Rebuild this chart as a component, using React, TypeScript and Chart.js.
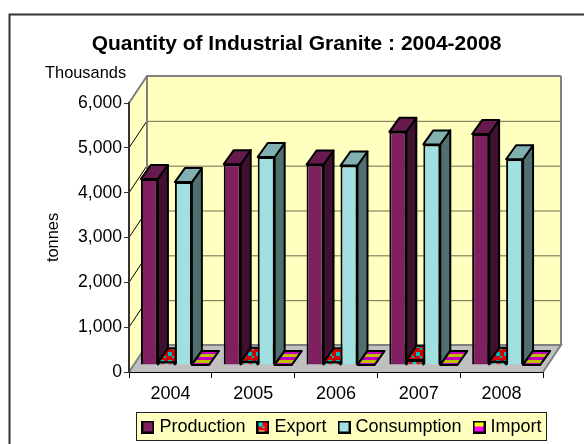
import React, { useEffect, useRef } from "react";
import { Chart, registerables } from "chart.js";

Chart.register(...registerables);

const categories = ["2004", "2005", "2006", "2007", "2008"];
const production = [4150, 4480, 4470, 5200, 5150];
const exportQty = [60, 70, 60, 110, 70];
const consumption = [4080, 4640, 4450, 4920, 4590];
const importQty = [0, 0, 0, 0, 0];
const yTicks = [0, 1000, 2000, 3000, 4000, 5000, 6000];

const FONT = "'Liberation Sans', Arial, sans-serif";
const WALL = { dx: 18, dy: 27 };
const SHIFT = { dx: 4.5, dy: 7 };
const DEPTH = { dx: 10, dy: 14 };

function tile(size: number, paint: (c: CanvasRenderingContext2D) => void) {
  const cv = document.createElement("canvas");
  cv.width = size;
  cv.height = size;
  paint(cv.getContext("2d") as CanvasRenderingContext2D);
  return cv;
}

function exportTile(bg: string, spot: string) {
  return tile(8, (c) => {
    c.fillStyle = bg;
    c.fillRect(0, 0, 8, 8);
    c.fillStyle = spot;
    c.fillRect(0, 0, 4, 4);
    c.fillRect(4, 4, 2, 2);
  });
}

function importTile(a: string, b: string) {
  return tile(6, (c) => {
    c.fillStyle = a;
    c.fillRect(0, 0, 6, 3);
    c.fillStyle = b;
    c.fillRect(0, 3, 6, 3);
  });
}

function swatch(fill: (c: CanvasRenderingContext2D) => void) {
  return tile(13, (c) => {
    fill(c);
    c.strokeStyle = "#000000";
    c.lineWidth = 2;
    c.strokeRect(1, 1, 11, 11);
  });
}

export default function App() {
  const ref = useRef<HTMLCanvasElement>(null);

  useEffect(() => {
    const canvas = ref.current as HTMLCanvasElement;
    const ctx = canvas.getContext("2d") as CanvasRenderingContext2D;
    const pat = (t: HTMLCanvasElement) => ctx.createPattern(t, "repeat") as CanvasPattern;

    const faces = [
      { side: "#40102F", top: "#661A4D" },
      { side: pat(exportTile("#800000", "#008080")), top: pat(exportTile("#D00000", "#00B8B8")) },
      { side: "#507070", top: "#80B0B0" },
      { side: pat(importTile("#C0C000", "#C000C0")), top: pat(importTile("#C0C000", "#C000C0")) },
    ];

    const swatches = [
      swatch((c) => { c.fillStyle = "#802060"; c.fillRect(0, 0, 13, 13); }),
      swatch((c) => { c.drawImage(exportTile("#FF0000", "#00DDDD"), 2, 2); c.fillStyle = "#FF0000"; c.fillRect(8, 2, 3, 9); }),
      swatch((c) => { c.fillStyle = "#A0E0E0"; c.fillRect(0, 0, 13, 13); }),
      swatch((c) => { c.fillStyle = "#FFFF00"; c.fillRect(0, 0, 13, 6); c.fillStyle = "#FF00FF"; c.fillRect(0, 6, 13, 7); }),
    ];

    const poly = (pts: number[][], fill: any, stroke?: string, lw = 1) => {
      ctx.beginPath();
      pts.forEach((p, i) => (i ? ctx.lineTo(p[0], p[1]) : ctx.moveTo(p[0], p[1])));
      ctx.closePath();
      ctx.fillStyle = fill;
      ctx.fill();
      if (stroke) {
        ctx.strokeStyle = stroke;
        ctx.lineWidth = lw;
        ctx.lineJoin = "round";
        ctx.stroke();
      }
    };

    const chrome = {
      id: "chrome",
      afterLayout(chart: any) {
        const l = chart.legend;
        l.left += 52;
        l.right += 52;
        l.top += 6;
        l.bottom += 6;
        chart.scales.x.bottom += 20;
        const t = chart.titleBlock;
        t.left += 5;
        t.right += 5;
        t.top += 2;
        t.bottom += 2;
      },
      beforeDraw(chart: any) {
        const { left, right, top, bottom } = chart.chartArea;
        const y = chart.scales.y;
        ctx.save();
        ctx.fillStyle = "#FFFFFF";
        ctx.fillRect(0, 0, 584, 444);
        ctx.strokeStyle = "#333333";
        ctx.lineWidth = 2;
        ctx.strokeRect(9.5, 14.5, 700, 600);
        poly([[left, top], [left + WALL.dx, top - WALL.dy], [left + WALL.dx, bottom - WALL.dy], [left, bottom]], "#FFFFC0");
        poly([[left + WALL.dx, top - WALL.dy], [right + WALL.dx, top - WALL.dy], [right + WALL.dx, bottom - WALL.dy], [left + WALL.dx, bottom - WALL.dy]], "#FFFFC0");
        poly([[left, bottom], [left + WALL.dx, bottom - WALL.dy], [right + WALL.dx, bottom - WALL.dy], [right, bottom]], "#C0C0C0");
        yTicks.slice(1, -1).forEach((v) => {
          const p = y.getPixelForValue(v);
          ctx.strokeStyle = "#000000";
          ctx.lineWidth = 1;
          ctx.beginPath();
          ctx.moveTo(left, p);
          ctx.lineTo(left + WALL.dx, p - WALL.dy);
          ctx.stroke();
          ctx.strokeStyle = "#6E6E50";
          ctx.beginPath();
          ctx.moveTo(left + WALL.dx, p - WALL.dy + 0.5);
          ctx.lineTo(right + WALL.dx, p - WALL.dy + 0.5);
          ctx.stroke();
        });
        ctx.strokeStyle = "#808080";
        ctx.lineWidth = 2;
        ctx.beginPath();
        ctx.moveTo(left, top);
        ctx.lineTo(left + WALL.dx, top - WALL.dy);
        ctx.lineTo(right + WALL.dx, top - WALL.dy);
        ctx.moveTo(left + WALL.dx, top - WALL.dy);
        ctx.lineTo(left + WALL.dx, bottom - WALL.dy);
        ctx.moveTo(left, bottom);
        ctx.lineTo(left + WALL.dx, bottom - WALL.dy);
        ctx.lineTo(right + WALL.dx, bottom - WALL.dy);
        ctx.lineTo(right, bottom);
        ctx.moveTo(right + WALL.dx, top - WALL.dy);
        ctx.lineTo(right + WALL.dx, bottom - WALL.dy);
        ctx.stroke();
        ctx.fillStyle = "#FFFFC0";
        ctx.fillRect(136.5, 412.5, 410, 28);
        ctx.strokeStyle = "#222222";
        ctx.lineWidth = 1;
        ctx.strokeRect(136.5, 412.5, 410, 28);
        ctx.fillStyle = "#000000";
        ctx.font = `16.4px ${FONT}`;
        ctx.textAlign = "left";
        ctx.textBaseline = "middle";
        ctx.fillText("Thousands", 45, 73);
        ctx.restore();
      },
      beforeDatasetsDraw(chart: any) {
        [0, 1, 2, 3].forEach((i) => {
          const meta = chart.getDatasetMeta(i);
          meta.data.forEach((bar: any) => {
            const xl = bar.x - bar.width / 2 + SHIFT.dx;
            const xr = bar.x + bar.width / 2 + SHIFT.dx;
            const yt = bar.y - SHIFT.dy;
            const yb = bar.base - SHIFT.dy;
            poly([[xr, yt], [xr + DEPTH.dx, yt - DEPTH.dy], [xr + DEPTH.dx, yb - DEPTH.dy], [xr, yb]], faces[i].side, "#000000", 2);
            poly([[xl, yt], [xr, yt], [xr + DEPTH.dx, yt - DEPTH.dy], [xl + DEPTH.dx, yt - DEPTH.dy]], faces[i].top, "#000000", 2);
          });
          ctx.save();
          ctx.translate(SHIFT.dx, -SHIFT.dy);
          meta.controller.draw();
          ctx.restore();
        });
        return false;
      },
    };

    const chart = new Chart(canvas, {
      type: "bar",
      data: {
        labels: categories,
        datasets: [
          { label: "Production", data: production, backgroundColor: "#802060", borderColor: "#000000", borderWidth: 2 },
          { label: "Export", data: exportQty, backgroundColor: pat(exportTile("#FF0000", "#00DDDD")), borderColor: "#000000", borderWidth: 2 },
          { label: "Consumption", data: consumption, backgroundColor: "#A0E0E0", borderColor: "#000000", borderWidth: 2 },
          { label: "Import", data: importQty, backgroundColor: pat(importTile("#FFFF00", "#FF00FF")), borderColor: "#000000", borderWidth: 2 },
        ],
      },
      options: {
        animation: false,
        responsive: false,
        datasets: { bar: { barPercentage: 1, categoryPercentage: 0.82 } },
        layout: { padding: { left: 40, right: 41, top: 30, bottom: 4 } },
        plugins: {
          tooltip: { enabled: false },
          title: {
            display: true,
            text: "Quantity of Industrial Granite : 2004-2008",
            color: "#000000",
            font: { family: FONT, size: 21, weight: "bold" },
            padding: { top: 0, bottom: 47.8 },
          },
          legend: {
            position: "bottom",
            labels: {
              color: "#000000",
              font: { family: FONT, size: 18 },
              usePointStyle: true,
              pointStyleWidth: 5,
              boxHeight: 13,
              padding: 15,
              generateLabels(c: any) {
                const base = Chart.defaults.plugins.legend.labels.generateLabels(c);
                return base.map((item: any, i: number) => ({ ...item, pointStyle: swatches[i] }));
              },
            },
          },
        },
        scales: {
          x: {
            afterFit(scale: any) {
              scale.height = 25;
            },
            grid: { display: true, drawOnChartArea: false, drawTicks: true, tickLength: 6, color: "#000000", offset: true },
            border: { color: "#000000", width: 1 },
            ticks: { color: "#000000", font: { family: FONT, size: 18 }, padding: 5, maxRotation: 0 },
          },
          y: {
            min: 0,
            max: 6000,
            afterBuildTicks(scale: any) {
              scale.ticks = yTicks.map((value) => ({ value }));
            },
            afterFit(scale: any) {
              scale.width = 89;
            },
            grid: { display: true, drawOnChartArea: false, drawTicks: true, tickLength: 5, color: "#333333" },
            border: { color: "#333333", width: 2 },
            title: { display: true, text: "tonnes", color: "#000000", font: { family: FONT, size: 16.4 } },
            ticks: { color: "#000000", font: { family: FONT, size: 17.6 }, padding: 2 },
          },
        },
      },
      plugins: [chrome],
    } as any);

    return () => chart.destroy();
  }, []);

  return <canvas ref={ref} width={584} height={444} style={{ position: "fixed", left: 0, top: 0, display: "block" }} />;
}
